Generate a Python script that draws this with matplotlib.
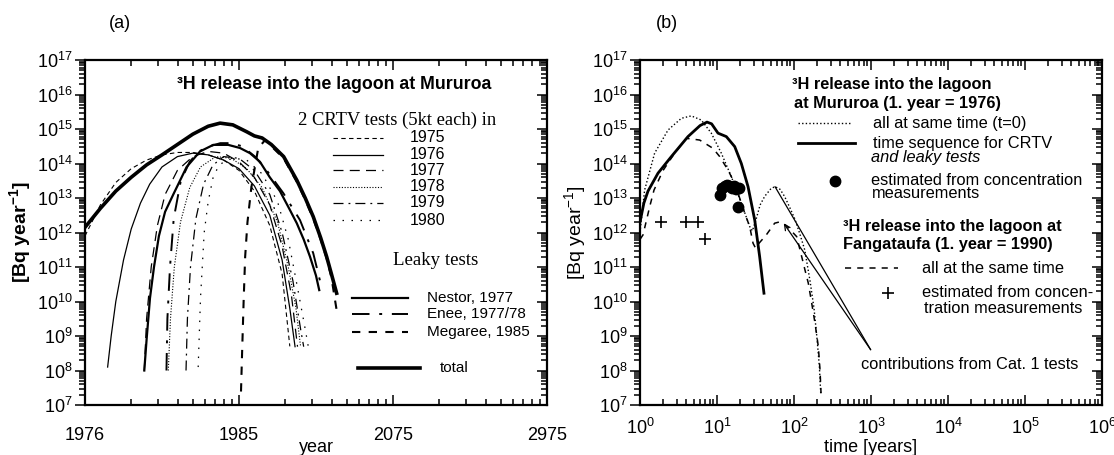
import numpy as np
import matplotlib
matplotlib.use("Agg")
import matplotlib.pyplot as plt
from matplotlib.ticker import FixedLocator, FixedFormatter, NullFormatter, LogFormatterMathtext

plt.rcParams['font.family'] = ['Liberation Sans', 'DejaVu Sans']
plt.rcParams['mathtext.fontset'] = 'custom'
plt.rcParams['mathtext.rm'] = 'Liberation Sans'
plt.rcParams['mathtext.it'] = 'Liberation Sans:italic'
plt.rcParams['mathtext.bf'] = 'Liberation Sans:bold'
plt.rcParams['mathtext.default'] = 'regular'

# ---------------- Panel (a) data: log10(years since 1975), log10(Bq/year) ----------------
a_total_lt = [0, 0.1, 0.2, 0.3, 0.4, 0.5, 0.6, 0.7, 0.8, 0.877, 0.96, 1.05, 1.1, 1.15, 1.21, 1.29, 1.375, 1.43, 1.482, 1.53, 1.569, 1.6, 1.634]
a_total_ly = [12.15, 12.7, 13.2, 13.6, 13.96, 14.25, 14.55, 14.85, 15.08, 15.17, 15.12, 14.92, 14.8, 14.74, 14.55, 14.2, 13.52, 13.0, 12.46, 11.85, 11.3, 10.8, 10.24]

a_nestor_lt = [0.385, 0.40, 0.422, 0.448, 0.48, 0.52, 0.573, 0.66, 0.747, 0.833, 0.93, 1.006, 1.071, 1.136, 1.2, 1.266, 1.331, 1.375, 1.42, 1.461, 1.50, 1.521]
a_nestor_ly = [8.0, 8.9, 10.1, 11.0, 11.9, 12.6, 13.1, 13.9, 14.35, 14.54, 14.54, 14.45, 14.3, 14.05, 13.6, 13.2, 12.65, 12.27, 11.8, 11.3, 10.75, 10.33]

a_enee_lt = [0.529, 0.535, 0.552, 0.576, 0.622, 0.68, 0.739, 0.81, 0.879, 0.949, 1.02, 1.104, 1.18, 1.288, 1.396, 1.482, 1.526]
a_enee_ly = [8.0, 9.5, 11.0, 12.4, 13.5, 14.05, 14.35, 14.5, 14.59, 14.59, 14.5, 14.2, 13.8, 13.14, 12.36, 11.4, 10.6]

a_megaree_lt = [1.013, 1.02, 1.03, 1.04, 1.055, 1.08, 1.125, 1.17, 1.21, 1.29, 1.375, 1.43, 1.482, 1.53, 1.569, 1.6, 1.634]
a_megaree_ly = [7.39, 8.5, 10.0, 11.3, 12.3, 13.3, 14.45, 14.68, 14.5, 14.15, 13.47, 12.95, 12.4, 11.8, 11.25, 10.7, 9.75]

a_1975_lt = [0, 0.1, 0.2, 0.3, 0.4, 0.5, 0.6, 0.7, 0.8, 0.9, 1.0, 1.1, 1.2, 1.28, 1.33]
a_1975_ly = [11.9, 12.8, 13.45, 13.85, 14.1, 14.25, 14.32, 14.32, 14.25, 14.1, 13.8, 13.2, 12.2, 10.8, 8.7]

a_1976_lt = [0.147, 0.17, 0.2, 0.25, 0.3, 0.36, 0.42, 0.5, 0.6, 0.7, 0.8, 0.9, 1.0, 1.1, 1.2, 1.28, 1.33, 1.364]
a_1976_ly = [8.1, 9.0, 10.0, 11.2, 12.1, 12.85, 13.4, 13.9, 14.2, 14.3, 14.25, 14.1, 13.85, 13.35, 12.5, 11.2, 9.8, 8.69]

a_1977_lt = [0.385, 0.40, 0.43, 0.47, 0.52, 0.6, 0.7, 0.8, 0.9, 1.0, 1.1, 1.2, 1.28, 1.34, 1.38]
a_1977_ly = [8.0, 9.5, 11.0, 12.2, 13.1, 13.8, 14.2, 14.35, 14.3, 14.05, 13.6, 12.8, 11.6, 10.2, 8.69]

a_1978_lt = [0.541, 0.555, 0.58, 0.62, 0.68, 0.75, 0.85, 0.95, 1.05, 1.15, 1.25, 1.32, 1.37, 1.40]
a_1978_ly = [8.0, 9.5, 11.0, 12.3, 13.3, 13.9, 14.2, 14.15, 13.85, 13.3, 12.3, 11.0, 9.8, 8.69]

a_1979_lt = [0.656, 0.665, 0.685, 0.72, 0.77, 0.83, 0.9, 1.0, 1.1, 1.2, 1.28, 1.35, 1.40, 1.42]
a_1979_ly = [8.0, 9.5, 11.0, 12.4, 13.4, 13.95, 14.2, 14.15, 13.8, 13.1, 12.0, 10.6, 9.2, 8.69]

a_1980_lt = [0.735, 0.75, 0.774, 0.80, 0.832, 0.87, 0.92, 0.97, 1.05, 1.15, 1.25, 1.32, 1.38, 1.43, 1.45]
a_1980_ly = [8.1, 10.1, 12.0, 12.9, 13.6, 13.95, 14.1, 14.15, 14.1, 13.7, 12.9, 11.8, 10.4, 9.2, 8.69]

a_xtick_labels = ['1976', '1985', '2075', '2975']
a_crtv_years = ['1975', '1976', '1977', '1978', '1979', '1980']
a_leaky_labels = ['Nestor, 1977', 'Enee, 1977/78', 'Megaree, 1985']

# ---------------- Panel (b) data: log10(time in years), log10(Bq/year) ----------------
b_seq_lt = [0, 0.05, 0.104, 0.234, 0.407, 0.623, 0.78, 0.87, 0.93, 1.013, 1.121, 1.23, 1.316, 1.403, 1.49, 1.554, 1.61]
b_seq_ly = [12.3, 12.85, 13.2, 13.72, 14.2, 14.78, 15.1, 15.2, 15.15, 14.88, 14.78, 14.49, 14.0, 13.33, 12.36, 11.3, 10.24]

b_same_lt = [0, 0.06, 0.19, 0.364, 0.537, 0.666, 0.796, 0.926, 1.056, 1.186, 1.316, 1.425, 1.46, 1.51, 1.56, 1.62, 1.70, 1.753, 1.82, 1.879, 1.95, 2.009, 2.07, 2.139, 2.208, 2.26, 2.30, 2.33, 2.347]
b_same_ly = [12.0, 13.23, 14.3, 14.97, 15.31, 15.38, 15.26, 14.88, 14.3, 13.62, 12.85, 12.17, 12.05, 12.4, 12.8, 13.05, 13.27, 13.33, 13.25, 13.04, 12.7, 12.4, 12.0, 11.5, 10.6, 9.8, 8.9, 8.1, 7.34]

b_fang_lt = [0, 0.039, 0.126, 0.182, 0.3, 0.45, 0.602, 0.775, 0.948, 1.035, 1.143, 1.208, 1.273, 1.36, 1.425, 1.468, 1.5, 1.55, 1.64, 1.749, 1.818, 1.9, 2.035, 2.1, 2.143, 2.186, 2.23, 2.273, 2.316, 2.338, 2.351]
b_fang_ly = [11.8, 11.93, 12.75, 13.23, 13.8, 14.3, 14.73, 14.68, 14.44, 14.2, 13.81, 13.52, 13.14, 12.56, 12.17, 11.69, 11.55, 11.7, 11.93, 12.27, 12.31, 12.2, 11.88, 11.3, 10.91, 10.53, 9.95, 9.37, 8.69, 8.01, 7.34]

b_circ_t = [10.8, 11.7, 12.6, 13.5, 14.5, 15.5, 16.6, 17.8, 18.7, 19.5]
b_circ_y = [1.2e13, 1.9e13, 2.2e13, 2.4e13, 2.3e13, 2.0e13, 2.2e13, 1.8e13, 5.5e12, 1.9e13]

b_plus_t = [1.9, 3.9, 5.6, 6.9]
b_plus_y = [2.0e12, 2.0e12, 2.0e12, 6.5e11]

b_cat1_anchor = (990.0, 4.0e8)


def P(lt, ly):
    return 10.0 ** np.asarray(lt), 10.0 ** np.asarray(ly)


def log_minor(lo, hi):
    return [m * 10.0 ** e for e in range(lo, hi) for m in range(2, 10)]


Y_MAJOR = [10.0 ** e for e in range(7, 18)]
Y_MINOR = log_minor(7, 17)

fig = plt.figure(figsize=(11.14, 4.55), dpi=100)
W, H = 1114.0, 455.0
axA = fig.add_axes([85 / W, 1 - 405 / H, 462 / W, 345 / H])
axB = fig.add_axes([640 / W, 1 - 405 / H, 462 / W, 345 / H])

for ax in (axA, axB):
    ax.set_xscale('log')
    ax.set_yscale('log')
    ax.set_ylim(1e7, 1e17)
    ax.yaxis.set_major_locator(FixedLocator(Y_MAJOR))
    ax.yaxis.set_major_formatter(LogFormatterMathtext())
    ax.yaxis.set_minor_locator(FixedLocator(Y_MINOR))
    ax.yaxis.set_minor_formatter(NullFormatter())
    ax.tick_params(axis='x', which='both', direction='in', top=True, bottom=True, width=1.1)
    ax.tick_params(axis='y', which='both', direction='out', left=True, right=False, width=1.1, pad=2)
    ax.tick_params(which='both', labelsize=13)
    ax.tick_params(which='major', length=7)
    ax.tick_params(which='minor', length=4.2)
    for s in ax.spines.values():
        s.set_linewidth(1.6)

# right-side inward ticks via twin axes
for ax in (axA, axB):
    tw = ax.twinx()
    tw.set_yscale('log')
    tw.set_ylim(1e7, 1e17)
    tw.yaxis.set_major_locator(FixedLocator(Y_MAJOR))
    tw.yaxis.set_minor_locator(FixedLocator(Y_MINOR))
    tw.yaxis.set_major_formatter(NullFormatter())
    tw.yaxis.set_minor_formatter(NullFormatter())
    tw.tick_params(axis='y', which='both', direction='in', right=True, left=False, labelright=False, width=1.1)
    tw.tick_params(axis='y', which='major', length=7)
    tw.tick_params(axis='y', which='minor', length=4.2)
    for s in tw.spines.values():
        s.set_visible(False)

# ---------------- Panel (a) ----------------
axA.set_xlim(1, 1000)
axA.xaxis.set_major_locator(FixedLocator([1, 10, 100, 1000]))
axA.xaxis.set_major_formatter(FixedFormatter(a_xtick_labels))
axA.xaxis.set_minor_locator(FixedLocator(log_minor(0, 3)))
axA.xaxis.set_minor_formatter(NullFormatter())
axA.tick_params(axis='x', which='both', pad=16)

k = 'k'
axA.plot(*P(a_1975_lt, a_1975_ly), color=k, lw=0.8, dashes=(4, 3))
axA.plot(*P(a_1976_lt, a_1976_ly), color=k, lw=0.9)
axA.plot(*P(a_1977_lt, a_1977_ly), color=k, lw=0.9, dashes=(8, 5))
axA.plot(*P(a_1978_lt, a_1978_ly), color=k, lw=0.8, dashes=(1, 1.5))
axA.plot(*P(a_1979_lt, a_1979_ly), color=k, lw=0.9, dashes=(8, 4, 1.5, 4))
axA.plot(*P(a_1980_lt, a_1980_ly), color=k, lw=0.9, dashes=(1.2, 6))
axA.plot(*P(a_nestor_lt, a_nestor_ly), color=k, lw=1.6)
axA.plot(*P(a_enee_lt, a_enee_ly), color=k, lw=1.4, dashes=(9, 5, 1.5, 5))
axA.plot(*P(a_megaree_lt, a_megaree_ly), color=k, lw=1.5, dashes=(4, 4))
axA.plot(*P(a_total_lt, a_total_ly), color=k, lw=2.6)

axA.text(0.199, 0.93, '³H release into the lagoon at Mururoa', transform=axA.transAxes,
         fontsize=12.8, fontweight='bold', ha='left', va='center')
serif = ['Liberation Serif', 'DejaVu Serif']
axA.text(0.461, 0.826, '2 CRTV tests (5kt each) in', transform=axA.transAxes,
         fontsize=13.4, family=serif, ha='left', va='center')
crtv_styles = [dict(lw=0.8, dashes=(4, 3)), dict(lw=0.9), dict(lw=0.9, dashes=(8, 5)),
               dict(lw=0.8, dashes=(1, 1.5)), dict(lw=0.9, dashes=(8, 4, 1.5, 4)),
               dict(lw=0.9, dashes=(1.2, 6))]
crtv_rows = [0.774, 0.725, 0.681, 0.632, 0.586, 0.536]
for lab, st, yy in zip(a_crtv_years, crtv_styles, crtv_rows):
    axA.plot([0.537, 0.645], [yy, yy], transform=axA.transAxes, color=k, clip_on=False, **st)
    axA.text(0.703, yy, lab, transform=axA.transAxes, fontsize=11.5, ha='left', va='center')

axA.text(0.758, 0.42, 'Leaky tests', transform=axA.transAxes, fontsize=13.6,
         family=serif, ha='center', va='center')
leaky_styles = [dict(lw=1.6), dict(lw=1.4, dashes=(9, 5, 1.5, 5)), dict(lw=1.5, dashes=(4, 4))]
leaky_rows = [0.310, 0.264, 0.212]
for lab, st, yy in zip(a_leaky_labels, leaky_styles, leaky_rows):
    axA.plot([0.578, 0.699], [yy, yy], transform=axA.transAxes, color=k, clip_on=False, **st)
    axA.text(0.740, yy, lab, transform=axA.transAxes, fontsize=11, ha='left', va='center')
axA.plot([0.591, 0.725], [0.107, 0.107], transform=axA.transAxes, color=k, lw=2.6)
axA.text(0.768, 0.107, 'total', transform=axA.transAxes, fontsize=11, ha='left', va='center')

axA.set_ylabel('[Bq year$^{-1}$]', fontsize=14, fontweight='bold', labelpad=3)
axA.set_xlabel('year', fontsize=13)
axA.xaxis.set_label_coords(0.5, (405 - 448) / 345.0)
axA.xaxis.label.set_va('center')
fig.text(120 / W, 1 - 23 / H, '(a)', fontsize=13, ha='center', va='center')

# ---------------- Panel (b) ----------------
axB.set_xlim(1, 1e6)
axB.xaxis.set_major_locator(FixedLocator([10.0 ** e for e in range(0, 7)]))
axB.xaxis.set_major_formatter(LogFormatterMathtext())
axB.xaxis.set_minor_locator(FixedLocator(log_minor(0, 6)))
axB.xaxis.set_minor_formatter(NullFormatter())
axB.tick_params(axis='x', which='both', pad=9)

axB.plot(*P(b_same_lt, b_same_ly), color=k, lw=1.0, dashes=(1, 1.6))
axB.plot(*P(b_fang_lt, b_fang_ly), color=k, lw=1.1, dashes=(4, 4))
axB.plot(*P(b_seq_lt, b_seq_ly), color=k, lw=2.0)
axB.plot(b_circ_t, b_circ_y, 'o', color=k, ms=7.5, mec=k)
axB.plot(b_plus_t, b_plus_y, '+', color=k, ms=9, mew=1.2)

# pointer lines from the "Cat. 1" label to the second humps
same_t, same_y = P(b_same_lt, b_same_ly)
fang_t, fang_y = P(b_fang_lt, b_fang_ly)
i1 = np.argmax(np.where(same_t > 40, same_y, 0))
i2 = np.argmax(np.where(fang_t > 40, fang_y, 0))
axB.annotate('', xy=(same_t[i1], same_y[i1]), xytext=b_cat1_anchor,
             arrowprops=dict(arrowstyle='-', lw=0.9, color=k, shrinkA=0, shrinkB=0))
axB.annotate('', xy=(fang_t[i2] * 1.12, fang_y[i2] * 0.9), xytext=b_cat1_anchor,
             arrowprops=dict(arrowstyle='->', lw=0.9, color=k, shrinkA=0, shrinkB=0))

fs_b = 11.8
axB.text(0.330, 0.928, '³H release into the lagoon', transform=axB.transAxes,
         fontsize=fs_b, fontweight='bold', ha='left', va='center')
axB.text(0.334, 0.874, 'at Mururoa (1. year = 1976)', transform=axB.transAxes,
         fontsize=fs_b, fontweight='bold', ha='left', va='center')
axB.plot([0.342, 0.458], [0.817, 0.817], transform=axB.transAxes, color=k, lw=1.0, dashes=(1, 1.6))
axB.text(0.505, 0.817, 'all at same time (t=0)', transform=axB.transAxes, fontsize=fs_b, ha='left', va='center')
axB.plot([0.342, 0.466], [0.759, 0.759], transform=axB.transAxes, color=k, lw=2.0)
axB.text(0.505, 0.759, 'time sequence for CRTV', transform=axB.transAxes, fontsize=fs_b, ha='left', va='center')
axB.text(0.501, 0.717, 'and leaky tests', transform=axB.transAxes, fontsize=fs_b, ha='left', va='center',
         style='italic')
axB.plot([0.423], [0.650], 'o', transform=axB.transAxes, color=k, ms=7.5)
axB.text(0.501, 0.650, 'estimated from concentration', transform=axB.transAxes, fontsize=fs_b, ha='left', va='center')
axB.text(0.501, 0.612, 'measurements', transform=axB.transAxes, fontsize=fs_b, ha='left', va='center')
axB.text(0.439, 0.518, '³H release into the lagoon at', transform=axB.transAxes,
         fontsize=fs_b, fontweight='bold', ha='left', va='center')
axB.text(0.439, 0.465, 'Fangataufa (1. year = 1990)', transform=axB.transAxes,
         fontsize=fs_b, fontweight='bold', ha='left', va='center')
axB.plot([0.443, 0.559], [0.397, 0.397], transform=axB.transAxes, color=k, lw=1.1, dashes=(4, 4))
axB.text(0.610, 0.397, 'all at the same time', transform=axB.transAxes, fontsize=fs_b, ha='left', va='center')
axB.plot([0.536], [0.325], '+', transform=axB.transAxes, color=k, ms=9, mew=1.2)
axB.text(0.610, 0.325, 'estimated from concen-', transform=axB.transAxes, fontsize=fs_b, ha='left', va='center')
axB.text(0.614, 0.281, 'tration measurements', transform=axB.transAxes, fontsize=fs_b, ha='left', va='center')
axB.text(0.478, 0.118, 'contributions from Cat. 1 tests', transform=axB.transAxes, fontsize=fs_b, ha='left', va='center')

axB.set_ylabel('[Bq year$^{-1}$]', fontsize=14, labelpad=3)
axB.set_xlabel('time [years]', fontsize=13)
axB.xaxis.set_label_coords(0.5, (405 - 447) / 345.0)
axB.xaxis.label.set_va('center')
fig.text(667 / W, 1 - 23 / H, '(b)', fontsize=13, ha='center', va='center')

fig.savefig('out.png', dpi=100)
